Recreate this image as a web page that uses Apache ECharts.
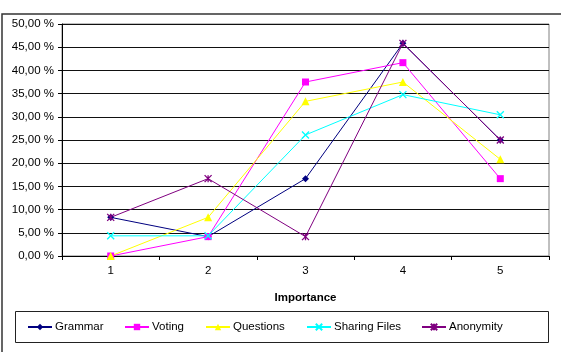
<!DOCTYPE html>
<html>
<head>
<meta charset="utf-8">
<script src="https://cdn.jsdelivr.net/npm/echarts@6/dist/echarts.min.js"></script>
<style>
html,body{margin:0;padding:0;background:#fff;}
#chart{width:561px;height:352px;}
</style>
</head>
<body>
<div id="chart"></div>
<script>
const categories = ['1', '2', '3', '4', '5'];
const seriesNames = ['Grammar', 'Voting', 'Questions', 'Sharing Files', 'Anonymity'];
const grammar = [8.33, 4.17, 16.67, 45.83, 25.00];
const voting = [0.00, 4.17, 37.50, 41.67, 16.67];
const questions = [0.00, 8.33, 33.33, 37.50, 20.83];
const sharingFiles = [4.35, 4.35, 26.09, 34.78, 30.43];
const anonymity = [8.33, 16.67, 4.17, 45.83, 25.00];
const yTicks = [0, 5, 10, 15, 20, 25, 30, 35, 40, 45, 50];
const xTitle = 'Importance';

const colors = ['#000080', '#FF00FF', '#FFFF00', '#00FFFF', '#800080'];
const crossPath = 'path://M0,0L10,10M10,0L0,10';
const starPath = 'path://M0,0L10,10M10,0L0,10M5,0L5,10';
const symbols = ['diamond', 'rect', 'triangle', crossPath, starPath];
const sizes = [7, 7, 8, 7, 7];
const values = [grammar, voting, questions, sharingFiles, anonymity];
const legendLefts = [27, 124, 205, 306, 421];

const font = 'Liberation Sans, Arial, sans-serif';
const chart = echarts.init(document.getElementById('chart'), null, {renderer: 'canvas'});

const series = seriesNames.map((name, i) => {
  const isStroke = i >= 3;
  return {
    name: name,
    type: 'line',
    data: values[i],
    symbol: symbols[i],
    symbolSize: sizes[i],
    showAllSymbol: true,
    lineStyle: {color: colors[i], width: 1},
    itemStyle: isStroke
      ? {color: colors[i], borderColor: colors[i], borderWidth: 1.3}
      : {color: colors[i], borderWidth: 0},
    emphasis: {disabled: true},
    animation: false
  };
});

const legends = seriesNames.map((name, i) => ({
  data: [name],
  left: legendLefts[i], top: 321,
  itemWidth: 24, itemHeight: 8,
  padding: 0,
  textStyle: {fontFamily: font, fontSize: 11.5, color: '#000', padding: [0, 0, 0, -2]},
  selectedMode: false
}));

chart.setOption({
  animation: false,
  backgroundColor: '#fff',
  textStyle: {fontFamily: font},
  grid: {
    left: 62, right: 12, top: 24, bottom: 96,
    show: true, borderColor: '#808080', borderWidth: 1, backgroundColor: '#fff'
  },
  graphic: [
    {type: 'rect', shape: {x: 2, y: 14, width: 700, height: 500}, style: {fill: 'none', stroke: '#333', lineWidth: 1.5}, z: 100},
    {type: 'rect', shape: {x: 15.5, y: 311.5, width: 533, height: 31}, style: {fill: 'none', stroke: '#222', lineWidth: 1}, z: 100}
  ],
  legend: legends,
  xAxis: {
    type: 'category',
    data: categories,
    boundaryGap: true,
    name: xTitle,
    nameLocation: 'middle',
    nameGap: 36,
    nameTextStyle: {fontFamily: font, fontSize: 11.5, fontWeight: 'bold', color: '#000'},
    axisLine: {lineStyle: {color: '#000', width: 1}},
    axisTick: {show: true, length: 4, lineStyle: {color: '#000'}, alignWithLabel: false},
    axisLabel: {fontFamily: font, fontSize: 11.5, color: '#000', margin: 9}
  },
  yAxis: {
    type: 'value',
    min: yTicks[0],
    max: yTicks[yTicks.length - 1],
    interval: yTicks[1] - yTicks[0],
    axisLine: {show: true, lineStyle: {color: '#000', width: 1}},
    axisTick: {show: true, length: 4, lineStyle: {color: '#000'}},
    axisLabel: {
      fontFamily: font, fontSize: 11.5, color: '#000', margin: 8,
      formatter: v => v.toFixed(2).replace('.', ',') + ' %'
    },
    splitLine: {show: true, lineStyle: {color: '#111', width: 1}}
  },
  series: series
});
</script>
</body>
</html>
